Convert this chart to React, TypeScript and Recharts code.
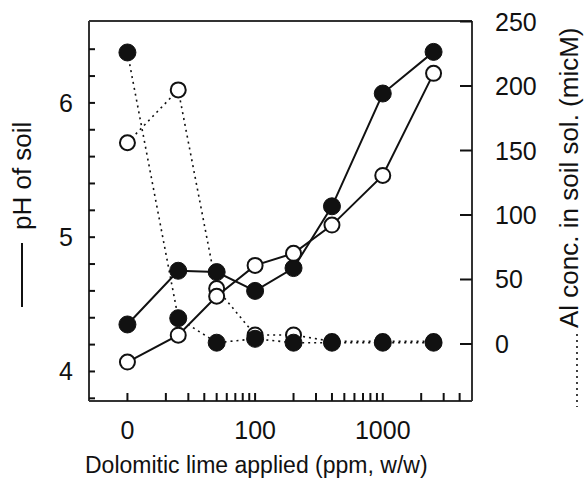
import React from 'react';
import { LineChart, Line, XAxis, YAxis } from 'recharts';

// Doses (ppm). "0" is drawn at the broken-log position 10.
const doseLabels = ['0', '25', '50', '100', '200', '400', '1000', '2500'];
const dosePlotX = [10, 25, 50, 100, 200, 400, 1000, 2500];

// pH of soil (solid lines)
const phFilled = [4.35, 4.75, 4.74, 4.6, 4.77, 5.23, 6.07, 6.38];
const phOpen = [4.07, 4.27, 4.56, 4.79, 4.88, 5.09, 5.46, 6.22];

// Al conc. in soil solution, micM (dotted lines)
const alFilled = [226, 20, 1, 4, 1, 1, 1, 1];
const alOpen = [156, 197, 43, 7, 7, 2, 2, 2];

const xTickValues = [10, 20, 30, 40, 50, 60, 70, 80, 90, 100, 200, 300, 400, 500, 600, 700, 800, 900, 1000, 2000, 3000, 4000];
const xTickLabels: Record<number, string> = { 10: '0', 100: '100', 1000: '1000' };
const phTicks = [3.8, 4, 4.2, 4.4, 4.6, 4.8, 5, 5.2, 5.4, 5.6, 5.8, 6, 6.2, 6.4];
const phMajor = [4, 5, 6];
const alTicks = [0, 50, 100, 150, 200, 250];

const data = dosePlotX.map((x, i) => ({
  x,
  dose: doseLabels[i],
  phFilled: phFilled[i],
  phOpen: phOpen[i],
  alFilled: alFilled[i],
  alOpen: alOpen[i],
}));

const FONT = "'Liberation Sans', Arial, Helvetica, sans-serif";
const INK = '#111';
const TICK_FS = 25;

const X_TICK = 8;
const PH_TICK = 6;
const AL_TICK = 12;

const XTick = (props: any) => {
  const { x, y, payload } = props;
  const label = xTickLabels[payload.value];
  if (label === undefined) return <g />;
  return (
    <text x={x} y={y + X_TICK + 29} textAnchor="middle" dominantBaseline="central" fontFamily={FONT} fontSize={TICK_FS} fill={INK} stroke="none">
      {label}
    </text>
  );
};

const PhTick = (props: any) => {
  const { x, y, payload } = props;
  const v = payload.value;
  const major = phMajor.some((m) => Math.abs(m - v) < 1e-6);
  if (!major) return <g />;
  return (
    <text x={x - PH_TICK - 16} y={y} textAnchor="end" dominantBaseline="central" fontFamily={FONT} fontSize={TICK_FS} fill={INK} stroke="none">
      {String(v)}
    </text>
  );
};

const AlTick = (props: any) => {
  const { x, y, payload } = props;
  return (
    <text x={x + AL_TICK + 23} y={y} textAnchor="start" dominantBaseline="central" fontFamily={FONT} fontSize={TICK_FS} fill={INK} stroke="none">
      {String(payload.value)}
    </text>
  );
};

const filledDot = (props: any) => (
  <circle key={`f-${props.index}`} cx={props.cx} cy={props.cy} r={8.5} fill={INK} stroke={INK} strokeWidth={1} />
);
const openDot = (props: any) => (
  <circle key={`o-${props.index}`} cx={props.cx} cy={props.cy} r={7.5} fill="#fff" stroke={INK} strokeWidth={2} />
);

const axisLine = { stroke: '#333', strokeWidth: 2 };
const tickLine = { stroke: INK, strokeWidth: 2 };

export default function App() {
  return (
    <div style={{ position: 'fixed', left: 0, top: 0, width: 584, height: 479, background: '#fff' }}>
      <LineChart width={584} height={479} data={data} margin={{ top: 20, left: 29, right: 52, bottom: 28 }}>
        <XAxis
          dataKey="x"
          type="number"
          scale="log"
          domain={[5, 5000]}
          allowDataOverflow
          ticks={xTickValues}
          interval={0}
          height={50}
          tickSize={-X_TICK}
          tickMargin={0}
          tickLine={tickLine}
          axisLine={axisLine}
          tick={<XTick />}
        />
        <XAxis
          xAxisId="top"
          orientation="top"
          dataKey="x"
          type="number"
          scale="log"
          domain={[5, 5000]}
          allowDataOverflow
          height={1}
          tickSize={0}
          tick={false}
          tickLine={false}
          axisLine={axisLine}
        />
        <YAxis
          yAxisId="ph"
          type="number"
          domain={[3.78, 6.61]}
          allowDataOverflow
          ticks={phTicks}
          interval={0}
          width={60}
          tickSize={-PH_TICK}
          tickMargin={0}
          tickLine={tickLine}
          axisLine={axisLine}
          tick={<PhTick />}
        />
        <YAxis
          yAxisId="al"
          orientation="right"
          type="number"
          domain={[-44.2, 250.4]}
          allowDataOverflow
          ticks={alTicks}
          interval={0}
          width={60}
          tickSize={-AL_TICK}
          tickMargin={0}
          tickLine={tickLine}
          axisLine={axisLine}
          tick={<AlTick />}
        />
        <Line yAxisId="al" dataKey="alOpen" stroke={INK} strokeWidth={1.6} strokeDasharray="2 4" dot={openDot} isAnimationActive={false} />
        <Line yAxisId="al" dataKey="alFilled" stroke={INK} strokeWidth={1.6} strokeDasharray="2 4" dot={filledDot} isAnimationActive={false} />
        <Line yAxisId="ph" dataKey="phFilled" stroke={INK} strokeWidth={2} dot={filledDot} isAnimationActive={false} />
        <Line yAxisId="ph" dataKey="phOpen" stroke={INK} strokeWidth={2} dot={openDot} isAnimationActive={false} />
      </LineChart>
      <svg width={584} height={479} style={{ position: 'absolute', left: 0, top: 0, pointerEvents: 'none' }}>
        <text x={85} y={465} textAnchor="start" dominantBaseline="central" fontFamily={FONT} fontSize={23} fill={INK}>
          Dolomitic lime applied (ppm, w/w)
        </text>
        <text transform="translate(22,230) rotate(-90)" textAnchor="start" dominantBaseline="central" fontFamily={FONT} fontSize={26} fill={INK}>
          pH of soil
        </text>
        <line x1={22} x2={22} y1={243} y2={307} stroke={INK} strokeWidth={2} />
        <text transform="translate(569,328) rotate(-90)" textAnchor="start" dominantBaseline="central" fontFamily={FONT} fontSize={26} fill={INK}>
          Al conc. in soil sol. (micM)
        </text>
        <line x1={577} x2={577} y1={334} y2={407} stroke={INK} strokeWidth={1.6} strokeDasharray="2 4" />
      </svg>
    </div>
  );
}
